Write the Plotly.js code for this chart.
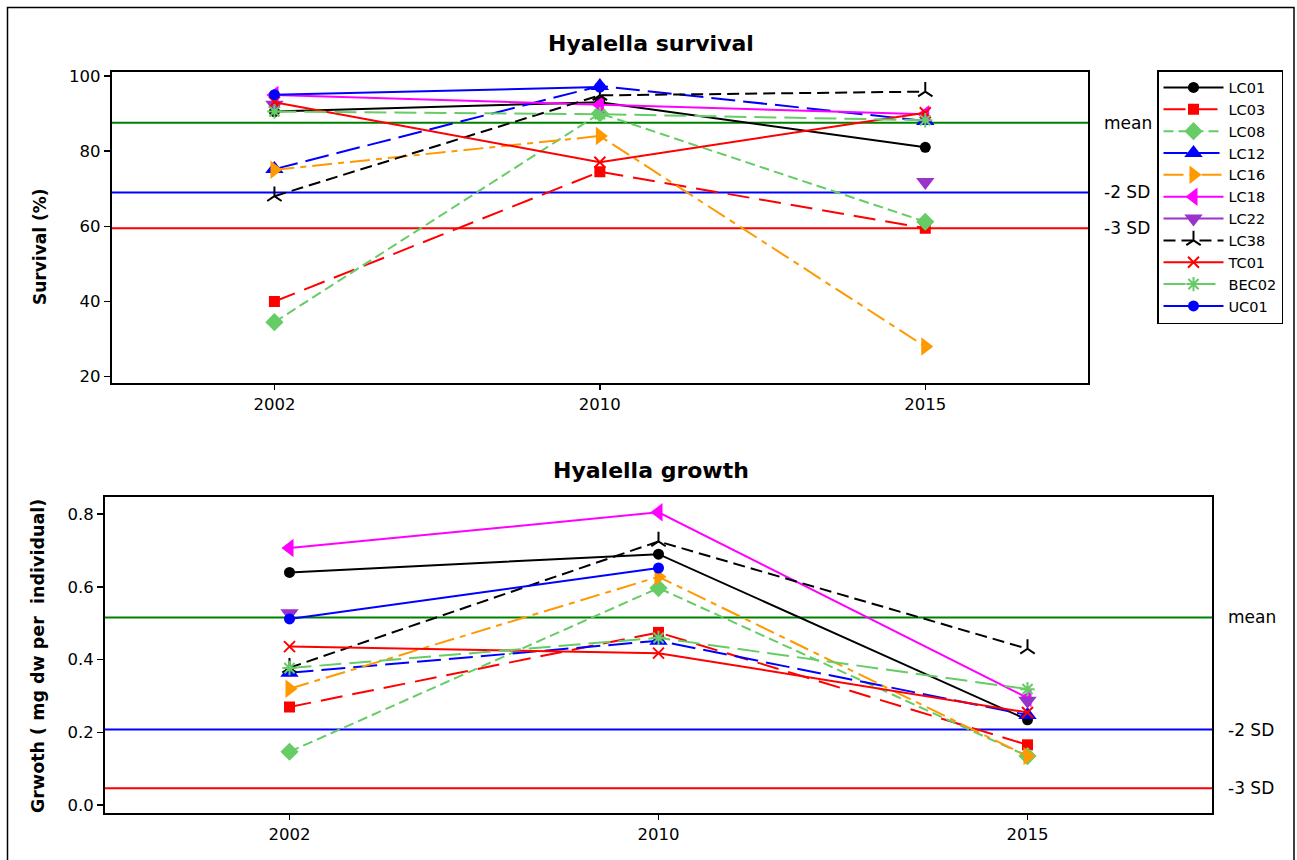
<!DOCTYPE html>
<html><head><meta charset="utf-8">
<script src="https://cdn.plot.ly/plotly-3.0.1.min.js"></script>
<style>html,body{margin:0;padding:0;background:#fff}#chart{width:1297px;height:860px}</style>
</head><body><div id="chart"></div>
<script>
const years = ['2002','2010','2015'];
const sites = ['LC01','LC03','LC08','LC12','LC16','LC18','LC22','LC38','TC01','BEC02','UC01'];

// Survival (%)
const survLC01  = [90.5, 93, 81];
const survLC03  = [40, 74.5, 59.5];
const survLC08  = [34.5, 90, 61.2];
const survLC12  = [75.2, 97.3, 88];
const survLC16  = [75, 84, 28];
const survLC18  = [94.9, 92.3, 89.8];
const survLC22  = [92.3, null, 71.8];
const survLC38  = [68, 94.8, 95.8];
const survTC01  = [93, 77, 90.2];
const survBEC02 = [90.5, 89.8, 88.2];
const survUC01  = [95, 97, null];

// Growth (mg dw per individual)
const growLC01  = [0.64, 0.69, 0.235];
const growLC03  = [0.27, 0.475, 0.166];
const growLC08  = [0.147, 0.597, 0.135];
const growLC12  = [0.364, 0.452, 0.248];
const growLC16  = [0.32, 0.628, 0.135];
const growLC18  = [0.707, 0.805, 0.295];
const growLC22  = [0.528, null, 0.287];
const growLC38  = [0.378, 0.725, 0.43];
const growTC01  = [0.436, 0.418, 0.255];
const growBEC02 = [0.377, 0.46, 0.319];
const growUC01  = [0.512, 0.652, null];

const refLabels = ['mean','-2 SD','-3 SD'];
const survRef = [87.5, 69, 59.5];
const growRef = [0.516, 0.208, 0.047];

const survData = [survLC01,survLC03,survLC08,survLC12,survLC16,survLC18,survLC22,survLC38,survTC01,survBEC02,survUC01];
const growData = [growLC01,growLC03,growLC08,growLC12,growLC16,growLC18,growLC22,growLC38,growTC01,growBEC02,growUC01];

const styles = [
  {color:'#000000', dash:'solid', symbol:'circle', size:11},
  {color:'#ff0000', dash:'22px,10px', symbol:'square', size:11},
  {color:'#66cc66', dash:'10px,5px', symbol:'diamond', size:14},
  {color:'#0000ff', dash:'24px,8px', symbol:'triangle-up', size:16},
  {color:'#ff9900', dash:'20px,6px,6px,6px', symbol:'triangle-right', size:16},
  {color:'#ff00ff', dash:'solid', symbol:'triangle-left', size:16},
  {color:'#9933cc', dash:'solid', symbol:'triangle-down', size:16},
  {color:'#000000', dash:'12px,6px', symbol:'y-up', size:12, open:true},
  {color:'#ff0000', dash:'solid', symbol:'x-thin', size:11, open:true},
  {color:'#66cc66', dash:'22px,8px', symbol:'asterisk', size:12, open:true},
  {color:'#0000ff', dash:'solid', symbol:'circle', size:11}
];

const traces = [];
function addTraces(data, xa, ya, showleg) {
  sites.forEach((s, i) => {
    const st = styles[i];
    const marker = {symbol: st.symbol, size: st.size, color: st.color};
    if (st.open) marker.line = {color: st.color, width: 2};
    traces.push({
      type:'scatter', mode:'lines+markers', name:s, legendgroup:s, showlegend:showleg,
      x: years, y: data[i], xaxis: xa, yaxis: ya, connectgaps:false,
      line:{color: st.color, width:2, dash: st.dash}, marker: marker,
      hoverinfo:'x+y+name'
    });
  });
}
addTraces(survData, 'x', 'y', true);
addTraces(growData, 'x2', 'y2', false);

const refColors = ['#008000','#0000ff','#ff0000'];
const shapes = [];
const annotations = [];
function addRefs(vals, xref, yref) {
  vals.forEach((v, i) => {
    shapes.push({type:'line', xref: xref + ' domain', yref: yref, x0:0, x1:1, y0:v, y1:v,
      line:{color: refColors[i], width:2}, layer:'below'});
    annotations.push({xref: xref + ' domain', yref: yref, x:1, xshift:14, y:v, xanchor:'left', yanchor:'middle',
      text: refLabels[i], showarrow:false, font:{family:'DejaVu Sans', size:17, color:'#000'}});
  });
}
addRefs(survRef, 'x', 'y');
addRefs(growRef, 'x2', 'y2');

// outer frame
shapes.push({type:'rect', xref:'paper', yref:'paper', x0:7.5/1297, x1:1294/1297, y0:-0.01, y1:1-7.5/860,
  line:{color:'#000', width:1.5}, fillcolor:'rgba(0,0,0,0)'});

const titleFont = {family:'DejaVu Sans', size:22, color:'#000'};
annotations.push({xref:'paper', yref:'paper', x:651/1297, y:1-44/860, text:'<b>Hyalella survival</b>', showarrow:false,
  xanchor:'center', yanchor:'middle', font:titleFont});
annotations.push({xref:'paper', yref:'paper', x:651/1297, y:1-470/860, text:'<b>Hyalella growth</b>', showarrow:false,
  xanchor:'center', yanchor:'middle', font:titleFont});

const axTitleFont = {family:'DejaVu Sans', size:17, color:'#000'};
annotations.push({xref:'paper', yref:'paper', x:40/1297, y:1-247/860, text:'<b>Survival (%)</b>', showarrow:false,
  textangle:-90, xanchor:'center', yanchor:'middle', font:axTitleFont});
annotations.push({xref:'paper', yref:'paper', x:38/1297, y:1-656/860, text:'<b>Grwoth (\u00a0mg dw per\u00a0 individual)</b>', showarrow:false,
  textangle:-90, xanchor:'center', yanchor:'middle', font:{family:'DejaVu Sans', size:17.5, color:'#000'}});

const axFont = {family:'DejaVu Sans', size:16.5, color:'#000'};
const xCommon = {type:'category', categoryorder:'array', categoryarray: years, range:[-0.5, 2.5],
  showline:true, mirror:true, linecolor:'#000', linewidth:2, ticks:'outside', ticklen:5, tickwidth:1.5, tickcolor:'#000',
  showgrid:false, zeroline:false, tickfont: axFont, fixedrange:true};
const yCommon = {showline:true, mirror:true, linecolor:'#000', linewidth:2, ticks:'outside', ticklen:6, tickwidth:1.5, tickcolor:'#000',
  showgrid:false, zeroline:false, tickfont: axFont, fixedrange:true};

const layout = {
  width:1297, height:860, margin:{l:0,r:0,t:0,b:0}, paper_bgcolor:'#fff', plot_bgcolor:'#fff',
  font:{family:'DejaVu Sans', color:'#000'},
  xaxis: Object.assign({}, xCommon, {domain:[111.7/1297, 1088/1297], anchor:'y'}),
  yaxis: Object.assign({}, yCommon, {domain:[1-382.7/860, 1-71.7/860], anchor:'x', range:[18.4, 101.1], dtick:20}),
  xaxis2: Object.assign({}, xCommon, {domain:[105/1297, 1212/1297], anchor:'y2'}),
  yaxis2: Object.assign({}, yCommon, {domain:[1-812.7/860, 1-496.7/860], anchor:'x2', range:[-0.0205, 0.848], dtick:0.2, tickformat:'.1f'}),
  legend:{x:1157/1297, y:1-70/860, xanchor:'left', yanchor:'top', bgcolor:'#fff', bordercolor:'#000', borderwidth:1.5,
    font:{family:'DejaVu Sans', size:14.5, color:'#000'}, tracegroupgap:0, itemwidth:60},
  shapes: shapes, annotations: annotations, showlegend:true
};

Plotly.newPlot('chart', traces, layout, {displayModeBar:false, staticPlot:true});
</script></body></html>
